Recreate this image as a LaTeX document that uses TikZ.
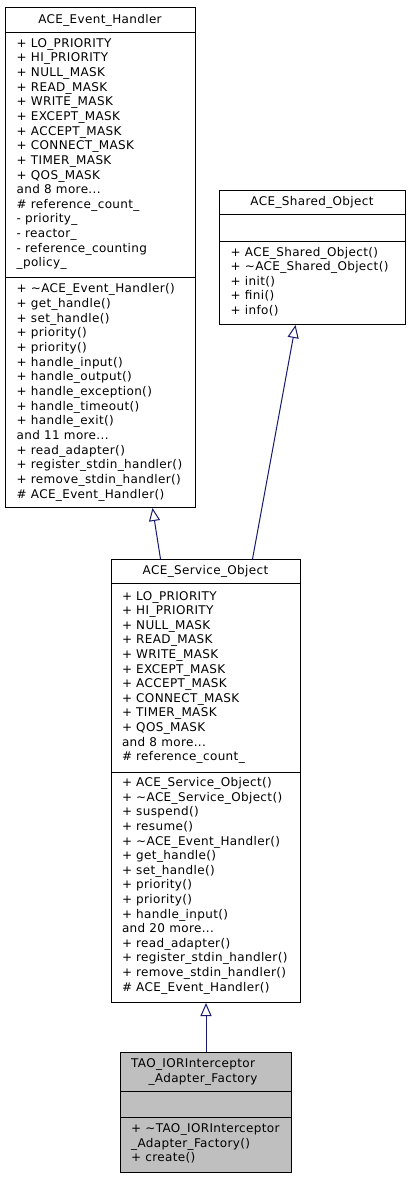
\documentclass[tikz,border=0pt]{standalone}
\usepackage{fontspec}
\usetikzlibrary{arrows.meta}
\newfontfamily\dxfont[LetterSpace=3]{DejaVu Sans}
\newcommand\mydots{...}
\definecolor{edgeblue}{HTML}{191970}
\definecolor{boxgray}{HTML}{BFBFBF}
\tikzset{
  umlbox/.style={draw=black, line width=1pt, fill=white, inner sep=0pt, anchor=north west},
  txt/.style={font={\dxfont\fontsize{12}{14.6}\selectfont}, inner sep=0pt, anchor=base west, text=black},
  ttl/.style={font={\dxfont\fontsize{12}{14.6}\selectfont}, inner sep=0pt, anchor=base, text=black},
  sepline/.style={draw=black, line width=1pt},
  inh/.style={draw=edgeblue, line width=1pt, -{Triangle[open, fill=white, length=13pt, width=11pt]}}
}
\begin{document}
\begin{tikzpicture}[x=1pt, y=-1pt]
\useasboundingbox (0,0) rectangle (409,1179);
\fill[white] (0,0) rectangle (409,1179);

% ---- ACE_Event_Handler ----
\node[umlbox, minimum width=190pt, minimum height=500pt] (A) at (5,7) {};
\node[ttl] (Atitle) at (100,23) {ACE\_Event\_Handler};
\draw[sepline] (5,32) -- (195,32);
\draw[sepline] (5,277) -- (195,277);
\foreach \t [count=\i] in {{+ LO\_PRIORITY},{+ HI\_PRIORITY},{+ NULL\_MASK},{+ READ\_MASK},{+ WRITE\_MASK},{+ EXCEPT\_MASK},{+ ACCEPT\_MASK},{+ CONNECT\_MASK},{+ TIMER\_MASK},{+ QOS\_MASK},{and 8 more\mydots},{\# reference\_count\_},{- priority\_},{- reactor\_},{- reference\_counting},{\_policy\_}}
  \node[txt] (Aa\i) at (16.5,{47.3+(\i-1)*14.64}) {\t};
\foreach \t [count=\i] in {{+ \textasciitilde ACE\_Event\_Handler()},{+ get\_handle()},{+ set\_handle()},{+ priority()},{+ priority()},{+ handle\_input()},{+ handle\_output()},{+ handle\_exception()},{+ handle\_timeout()},{+ handle\_exit()},{and 11 more\mydots},{+ read\_adapter()},{+ register\_stdin\_handler()},{+ remove\_stdin\_handler()},{\# ACE\_Event\_Handler()}}
  \node[txt] (Am\i) at (16.5,{292.7+(\i-1)*14.69}) {\t};

% ---- ACE_Shared_Object ----
\node[umlbox, minimum width=186pt, minimum height=134pt] (B) at (219,190) {};
\node[ttl] (Btitle) at (312,205) {ACE\_Shared\_Object};
\draw[sepline] (219,214) -- (405,214);
\draw[sepline] (219,241) -- (405,241);
\foreach \t [count=\i] in {{+ ACE\_Shared\_Object()},{+ \textasciitilde ACE\_Shared\_Object()},{+ init()},{+ fini()},{+ info()}}
  \node[txt] (Bm\i) at (230.5,{256+(\i-1)*14.6}) {\t};

% ---- ACE_Service_Object ----
\node[umlbox, minimum width=189pt, minimum height=443pt] (C) at (111,559) {};
\node[ttl] (Ctitle) at (205.5,574.7) {ACE\_Service\_Object};
\draw[sepline] (111,583) -- (300,583);
\draw[sepline] (111,772) -- (300,772);
\foreach \t [count=\i] in {{+ LO\_PRIORITY},{+ HI\_PRIORITY},{+ NULL\_MASK},{+ READ\_MASK},{+ WRITE\_MASK},{+ EXCEPT\_MASK},{+ ACCEPT\_MASK},{+ CONNECT\_MASK},{+ TIMER\_MASK},{+ QOS\_MASK},{and 8 more\mydots},{\# reference\_count\_}}
  \node[txt] (Ca\i) at (121.8,{600+(\i-1)*14.6}) {\t};
\foreach \t [count=\i] in {{+ ACE\_Service\_Object()},{+ \textasciitilde ACE\_Service\_Object()},{+ suspend()},{+ resume()},{+ \textasciitilde ACE\_Event\_Handler()},{+ get\_handle()},{+ set\_handle()},{+ priority()},{+ priority()},{+ handle\_input()},{and 20 more\mydots},{+ read\_adapter()},{+ register\_stdin\_handler()},{+ remove\_stdin\_handler()},{\# ACE\_Event\_Handler()}}
  \node[txt] (Cm\i) at (121.8,{786.7+(\i-1)*14.6}) {\t};

% ---- TAO_IORInterceptor_Adapter_Factory ----
\node[umlbox, fill=boxgray, minimum width=171pt, minimum height=120pt] (D) at (120,1052) {};
\node[txt] (Dtitle1) at (131,1067.7) {TAO\_IORInterceptor};
\node[ttl] (Dtitle2) at (203,1082.5) {\_Adapter\_Factory};
\draw[sepline] (120,1091) -- (291,1091);
\draw[sepline] (120,1117) -- (291,1117);
\foreach \t [count=\i] in {{+ \textasciitilde TAO\_IORInterceptor},{\_Adapter\_Factory()},{+ create()}}
  \node[txt] (Dm\i) at (131,{1132.5+(\i-1)*14.6}) {\t};

% ---- inheritance edges ----
\draw[inh] ([xshift=-45.5pt]C.north) -- ([xshift=52pt]A.south);
\draw[inh] ([xshift=46.5pt]C.north) -- ([xshift=-17pt]B.south);
\draw[inh] (D.north) -- (C.south);
\end{tikzpicture}
\end{document}
